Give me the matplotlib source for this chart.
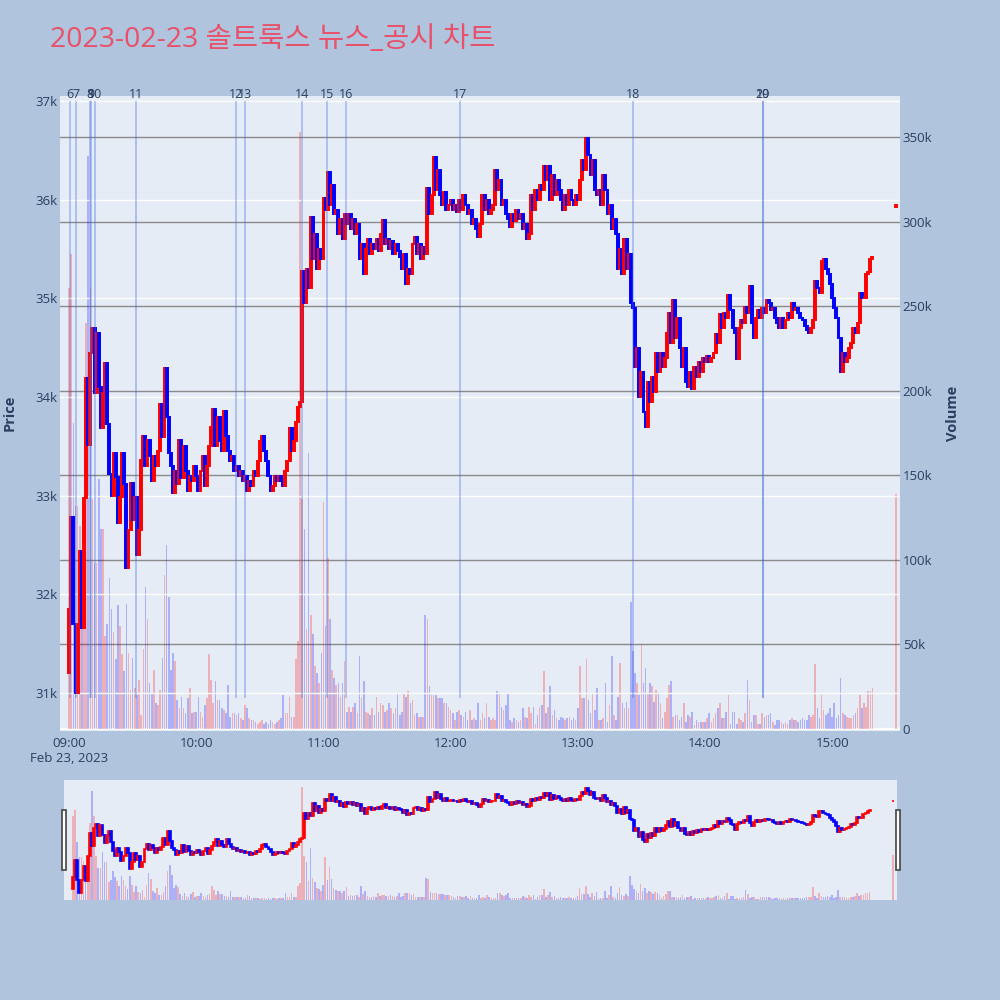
import matplotlib
matplotlib.use('Agg')
import matplotlib.pyplot as plt
from matplotlib.patches import Rectangle
from matplotlib.ticker import FuncFormatter
import numpy as np

plt.rcParams['font.family'] = ['Open Sans', 'Noto Sans CJK KR', 'DejaVu Sans']

# 1-minute candles from 09:00 (minute 0) to 15:19, plus the 15:30 closing auction
first_open = 31200
closes = [
    31850, 32780, 31700, 31000, 31700, 32440, 31660, 32980, 34190, 33510,
    34450, 34700, 34040, 34650, 34100, 33690, 34040, 34340, 33730, 33220,
    33000, 33430, 33190, 32720, 32990, 33430, 33120, 32270, 32650, 33130,
    32750, 32990, 32400, 32650, 33360, 33600, 33300, 33560, 33400, 33150,
    33400, 33300, 33450, 33930, 33590, 34290, 33800, 33430, 33300, 33030,
    33250, 33120, 33560, 33180, 33500, 33250, 33050, 33200, 33150, 33300,
    33200, 33050, 33250, 33400, 33100, 33300, 33500, 33700, 33880, 33500,
    33800, 33550, 33450, 33860, 33600, 33450, 33350, 33400, 33250, 33300,
    33200, 33250, 33150, 33200, 33050, 33150, 33100, 33250, 33200, 33350,
    33550, 33600, 33450, 33350, 33200, 33050, 33100, 33200, 33150, 33200,
    33150, 33100, 33250, 33350, 33690, 33450, 33550, 33750, 33900, 33950,
    35280, 34950, 35300, 35100, 35820, 35400, 35650, 35300, 35500, 35400,
    36020, 35900, 36280, 35950, 36150, 35850, 35900, 35650, 35800, 35600,
    35850, 35750, 35850, 35700, 35800, 35650, 35750, 35400, 35550, 35250,
    35500, 35600, 35450, 35550, 35500, 35600, 35480, 35650, 35790, 35550,
    35600, 35500, 35580, 35450, 35550, 35480, 35420, 35300, 35450, 35150,
    35300, 35250, 35550, 35620, 35450, 35550, 35400, 35520, 35450, 36120,
    35850, 36050, 36430, 36100, 36300, 36050, 35950, 36080, 35900, 35950,
    36000, 35900, 35950, 35880, 36000, 35900, 36050, 35950, 35850, 35900,
    35750, 35800, 35700, 35620, 35750, 36050, 35900, 36000, 35850, 35900,
    35950, 36300, 36100, 36200, 35950, 36000, 35850, 35800, 35720, 35850,
    35780, 35900, 35800, 35850, 35700, 35750, 35600, 35650, 36050, 35900,
    36100, 36000, 36150, 36100, 36340, 36200, 36340, 36000, 36250, 36050,
    36200, 36100, 36000, 35900, 36050, 35950, 36100, 36000, 35950, 36050,
    36000, 36200, 36400, 36300, 36630, 36450, 36250, 36400, 36100, 36050,
    36100, 35950, 36250, 36100, 35850, 35950, 35700, 35800, 35650, 35300,
    35500, 35250, 35600, 35300, 35450, 34950, 34900, 34300, 34500, 34000,
    34250, 33850, 33700, 34150, 33950, 34200, 34050, 34450, 34250, 34450,
    34300, 34400, 34650, 34850, 34550, 34980, 34600, 34800, 34500, 34300,
    34500, 34150, 34100, 34250, 34080, 34300, 34200, 34350, 34250, 34400,
    34350, 34420, 34350, 34400, 34450, 34640, 34550, 34840, 34700, 34850,
    34800, 35030, 34880, 34700, 34650, 34380, 34700, 34780, 34750, 34910,
    34850, 35130, 34750, 34600, 34800, 34880, 34800, 34900, 34850, 34980,
    34950, 34880, 34900, 34800, 34750, 34700, 34800, 34700, 34780, 34850,
    34800, 34950, 34880, 34900, 34850, 34800, 34780, 34720, 34680, 34650,
    34700, 34780, 35180, 35100, 35050, 35380, 35400, 35300, 35250, 35150,
    35000, 34900, 34800, 34600, 34250, 34450, 34350, 34400, 34500, 34550,
    34700, 34650, 34750, 35050, 35000, 35000, 35250, 35270, 35400, 35420,
]
volumes_k = [
    261, 281, 181, 132, 132, 120, 93, 95, 240, 339,
    261, 136, 98, 98, 148, 118, 118, 55, 62, 89,
    71, 57, 41, 73, 61, 44, 34, 74, 45, 23,
    42, 24, 20, 29, 8, 47, 84, 65, 27, 21,
    35, 15, 14, 23, 42, 91, 109, 78, 35, 45,
    40, 17, 12, 19, 12, 9, 18, 24, 9, 10,
    10, 19, 10, 7, 14, 18, 44, 29, 15, 28,
    17, 17, 12, 11, 9, 26, 7, 9, 9, 8,
    9, 6, 5, 14, 12, 6, 5, 5, 4, 3,
    4, 5, 3, 4, 3, 5, 4, 3, 4, 5,
    6, 20, 9, 9, 19, 7, 7, 41, 52, 353,
    136, 118, 59, 163, 67, 56, 37, 33, 27, 45,
    134, 61, 101, 65, 35, 30, 26, 27, 19, 27,
    40, 10, 13, 10, 13, 15, 9, 43, 18, 28,
    10, 9, 8, 12, 8, 19, 10, 15, 14, 10,
    11, 15, 12, 9, 12, 21, 8, 10, 21, 19,
    22, 15, 17, 8, 9, 7, 7, 7, 67, 65,
    25, 20, 20, 20, 18, 18, 18, 15, 15, 13,
    11, 9, 5, 10, 11, 8, 7, 10, 5, 11,
    5, 6, 5, 15, 5, 9, 6, 15, 7, 5,
    6, 5, 22, 21, 13, 11, 14, 21, 5, 4,
    6, 5, 4, 5, 12, 7, 6, 13, 9, 13,
    3, 8, 13, 14, 34, 9, 13, 25, 8, 11,
    6, 5, 7, 6, 5, 6, 7, 5, 6, 5,
    12, 37, 18, 18, 41, 17, 9, 21, 11, 24,
    5, 5, 6, 27, 4, 14, 43, 8, 5, 19,
    39, 15, 12, 16, 12, 75, 46, 33, 27, 20,
    50, 27, 36, 21, 27, 25, 16, 23, 21, 15,
    6, 10, 18, 26, 28, 7, 8, 8, 5, 7,
    15, 4, 8, 7, 10, 2, 5, 4, 4, 4,
    4, 6, 9, 4, 6, 9, 12, 15, 6, 6,
    10, 20, 3, 10, 10, 3, 6, 5, 4, 9,
    29, 17, 4, 8, 8, 3, 3, 9, 7, 8,
    8, 9, 4, 2, 5, 5, 4, 3, 4, 3,
    5, 6, 5, 5, 4, 5, 6, 5, 5, 8,
    7, 8, 38, 12, 6, 20, 11, 8, 9, 12,
    7, 15, 6, 8, 30, 9, 8, 7, 6, 6,
    8, 9, 12, 20, 12, 15, 13, 22, 22, 24,
]
auction_minute = 390
auction_open = 35930
auction_close = 35950
auction_volume_k = 139

# news / disclosure markers (minutes after 09:00)
news_minutes = [0.2, 3.3, 9.9, 10.3, 12.0, 31.7, 78.8, 83.2, 109.8, 121.8, 130.7, 184.6, 266.2, 327.2, 327.3]
news_labels = ['6', '7', '8', '9', '10', '11', '12', '13', '14', '15', '16', '17', '18', '19', '20']

hour_ticks = [0, 60, 120, 180, 240, 300, 360]
hour_labels = ['09:00\nFeb 23, 2023', '10:00', '11:00', '12:00', '13:00', '14:00', '15:00']
price_ticks = [31000, 32000, 33000, 34000, 35000, 36000, 37000]
volume_ticks = [0, 50000, 100000, 150000, 200000, 250000, 300000, 350000]

minutes = np.append(np.arange(len(closes)), auction_minute)
close_arr = np.array(closes + [auction_close], dtype=float)
open_arr = np.array([first_open] + closes[:-1] + [auction_open], dtype=float)
vol_arr = np.array(volumes_k + [auction_volume_k], dtype=float) * 1000
up = close_arr >= open_arr

text_col = '#2a3f5f'
bg = '#b0c4de'
plot_bg = '#e5ecf6'
x_lim = (-4.3, 392)
p_lim = (30614, 37051)
v_lim = (-1400, 374500)


def draw_candles(ax, width, lw):
    cols = np.where(up, '#ff0000', '#0000ff')
    bottoms = np.minimum(open_arr, close_arr)
    heights = np.abs(close_arr - open_arr)
    ax.bar(minutes, heights, width=width, bottom=bottoms, color=cols,
           edgecolor=cols, linewidth=lw, zorder=3)


def draw_volume(ax, width):
    cols = [(1, 0, 0, 0.25) if u else (0, 0, 1, 0.25) for u in up]
    ax.bar(minutes, vol_arr, width=width, color=cols, linewidth=0, zorder=2)


fig = plt.figure(figsize=(10, 10), dpi=100)
fig.patch.set_facecolor(bg)

rect = [0.060, 0.269, 0.840, 0.635]
ax_v = fig.add_axes(rect)
ax_p = fig.add_axes(rect)

# volume layer (bottom)
ax_v.set_facecolor(plot_bg)
for v in volume_ticks[1:]:
    ax_v.axhline(v, color='#8a8a8a', lw=1.0, zorder=1)
ax_v.axhline(0, color='white', lw=1.6, zorder=1)
draw_volume(ax_v, 0.75)
ax_v.set_xlim(x_lim)
ax_v.set_ylim(v_lim)
ax_v.yaxis.tick_right()
ax_v.set_yticks(volume_ticks)
ax_v.yaxis.set_major_formatter(FuncFormatter(lambda v, p: '0' if v == 0 else '%dk' % (v / 1000)))
ax_v.tick_params(axis='y', length=0, pad=2, labelsize=9.5, labelcolor=text_col)
ax_v.set_xticks(hour_ticks)
ax_v.set_xticklabels(hour_labels)
ax_v.tick_params(axis='x', length=0, pad=4, labelsize=9.5, labelcolor=text_col)
for s in ax_v.spines.values():
    s.set_visible(False)

# price layer (top)
ax_p.patch.set_visible(False)
for p in price_ticks:
    ax_p.axhline(p, color='white', lw=1.0, zorder=1)
draw_candles(ax_p, 0.9, 1.4)
ax_p.vlines(news_minutes, 30950, 37000, color='royalblue', alpha=0.4, lw=1.2, zorder=4)
for m, lab in zip(news_minutes, news_labels):
    ax_p.text(m, 37000, lab, ha='center', va='bottom', fontsize=9, color=text_col, zorder=5)
ax_p.set_xlim(x_lim)
ax_p.set_ylim(p_lim)
ax_p.set_yticks(price_ticks)
ax_p.yaxis.set_major_formatter(FuncFormatter(lambda v, p: '%dk' % (v / 1000)))
ax_p.tick_params(axis='y', length=0, pad=2, labelsize=9.5, labelcolor=text_col)
ax_p.set_xticks([])
for s in ax_p.spines.values():
    s.set_visible(False)

fig.text(0.05, 0.960, '2023-02-23 솔트룩스 뉴스_공시 차트', fontsize=20.5, color='#e9506a',
         ha='left', va='center')
fig.text(0.010, 0.587, 'Price', rotation=90, fontsize=10.5, fontweight='bold',
         color=text_col, ha='center', va='center')
fig.text(0.953, 0.587, 'Volume', rotation=90, fontsize=10.5, fontweight='bold',
         color=text_col, ha='center', va='center')

# range slider
srect = [0.064, 0.100, 0.833, 0.120]
ax_sv = fig.add_axes(srect)
ax_sp = fig.add_axes(srect)
ax_sv.set_facecolor(plot_bg)
draw_volume(ax_sv, 0.75)
ax_sv.set_xlim(x_lim)
ax_sv.set_ylim(v_lim)
ax_sp.patch.set_visible(False)
draw_candles(ax_sp, 0.9, 1.2)
ax_sp.set_xlim(x_lim)
ax_sp.set_ylim(p_lim)
for a in (ax_sv, ax_sp):
    a.set_xticks([])
    a.set_yticks([])
    for s in a.spines.values():
        s.set_visible(False)

for hx in (0.0615, 0.8955):
    fig.patches.append(Rectangle((hx, 0.130), 0.0042, 0.060, transform=fig.transFigure,
                                 facecolor='white', edgecolor='#444444', lw=1.2))

fig.savefig('out.png', dpi=100, facecolor=bg)
